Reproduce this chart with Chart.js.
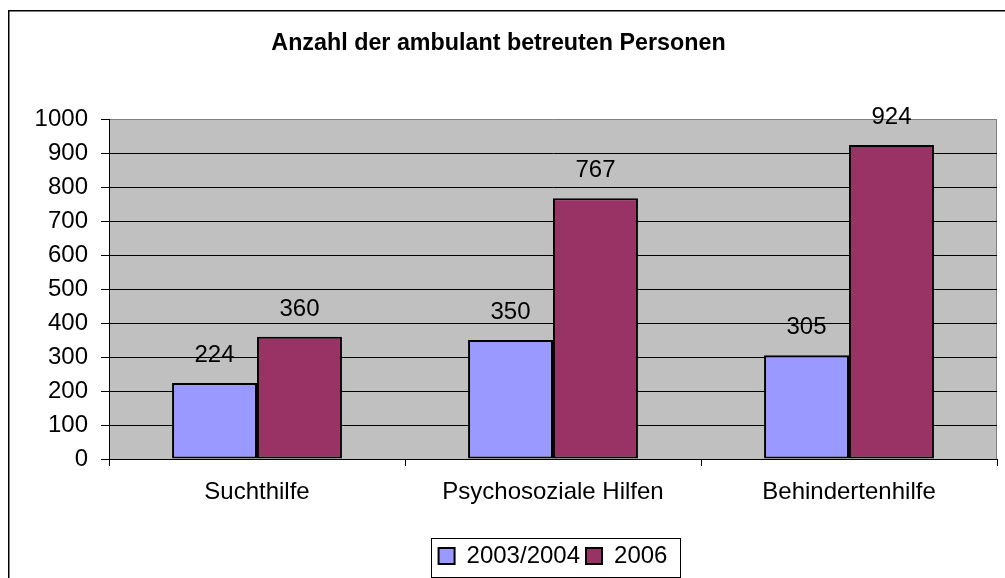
<!DOCTYPE html>
<html><head><meta charset="utf-8">
<script src="https://cdn.jsdelivr.net/npm/chart.js@4/dist/chart.umd.min.js"></script>
<style>html,body{margin:0;padding:0;background:#fff}canvas{display:block}</style>
</head><body>
<canvas id="c" width="1005" height="578"></canvas>
<script>
const categories = ['Suchthilfe', 'Psychosoziale Hilfen', 'Behindertenhilfe'];
const seriesNames = ['2003/2004', '2006'];
const values20032004 = [224, 350, 305];
const values2006 = [360, 767, 924];
const yTickValues = [0, 100, 200, 300, 400, 500, 600, 700, 800, 900, 1000];
const titleText = 'Anzahl der ambulant betreuten Personen';

const FONT = "'Liberation Sans', Arial, sans-serif";

const framePlugin = {
  id: 'frame',
  beforeDraw(chart) {
    const ctx = chart.ctx, a = chart.chartArea;
    ctx.save();
    ctx.fillStyle = '#ffffff';
    ctx.fillRect(0, 0, chart.width, chart.height);
    ctx.fillStyle = '#C0C0C0';
    ctx.fillRect(a.left, a.top, a.right - a.left, a.bottom - a.top);
    ctx.strokeStyle = '#808080';
    ctx.lineWidth = 1;
    ctx.beginPath();
    ctx.moveTo(a.right - 0.5, a.top);
    ctx.lineTo(a.right - 0.5, a.bottom);
    ctx.stroke();
    ctx.restore();
  },
  afterDatasetsDraw(chart) {
    const ctx = chart.ctx;
    ctx.save();
    ctx.fillStyle = '#000';
    ctx.font = '24px ' + FONT;
    ctx.textAlign = 'center';
    ctx.textBaseline = 'middle';
    chart.data.datasets.forEach((ds, i) => {
      chart.getDatasetMeta(i).data.forEach((bar, j) => {
        ctx.fillText(String(ds.data[j]), bar.x, bar.y - 27.5);
      });
    });
    ctx.restore();
  },
  afterDraw(chart) {
    const ctx = chart.ctx;
    ctx.save();
    ctx.strokeStyle = '#000';
    ctx.lineWidth = 1.5;
    ctx.strokeRect(8.75, 10.75, chart.width + 20, chart.height + 20);
    const lg = chart.legend;
    if (lg && lg.legendHitBoxes && lg.legendHitBoxes.length) {
      const hb = lg.legendHitBoxes;
      const l = hb[0].left - 8;
      const last = hb[hb.length - 1];
      const r = last.left + last.width + 12;
      ctx.lineWidth = 1;
      ctx.strokeRect(Math.round(l) + 0.5, Math.round(lg.top) + 0.5, Math.round(r - l), chart.height - Math.round(lg.top) - 1);
    }
    ctx.restore();
  }
};

new Chart(document.getElementById('c'), {
  type: 'bar',
  data: {
    labels: categories,
    datasets: [
      { label: seriesNames[0], data: values20032004, backgroundColor: '#9999FF', borderColor: '#000', borderWidth: 2, borderSkipped: false },
      { label: seriesNames[1], data: values2006, backgroundColor: '#993366', borderColor: '#000', borderWidth: 2, borderSkipped: false }
    ]
  },
  options: {
    responsive: false,
    devicePixelRatio: 1,
    animation: false,
    layout: { padding: { left: 0, right: 8, top: 0, bottom: 0 } },
    datasets: { bar: { categoryPercentage: 0.574, barPercentage: 1 } },
    plugins: {
      title: {
        display: true, text: titleText, color: '#000',
        font: { family: FONT, size: 23.3, weight: 'bold' },
        padding: { top: 30, bottom: 61.2 }
      },
      legend: {
        position: 'bottom', fullSize: false,
        labels: { boxWidth: 16, boxHeight: 16, color: '#000', padding: 6, font: { family: FONT, size: 24 } }
      },
      tooltip: { enabled: false }
    },
    scales: {
      x: {
        grid: { offset: true, drawOnChartArea: false, drawTicks: true, tickLength: 7, color: '#000', lineWidth: 1 },
        border: { color: '#000', width: 1 },
        ticks: { color: '#000', padding: 12, maxRotation: 0, font: { family: FONT, size: 24 } },
        afterFit(s) { s.height = 79; }
      },
      y: {
        min: 0, max: 1000,
        afterBuildTicks(s) { s.ticks = yTickValues.map(v => ({ value: v })); },
        grid: {
          color: c => (c.tick && c.tick.value === 1000) ? '#808080' : '#000',
          tickColor: '#000', tickLength: 8, lineWidth: 1
        },
        border: { color: '#000', width: 1 },
        ticks: { color: '#000', padding: 13, font: { family: FONT, size: 24 }, callback: v => String(v) },
        afterFit(s) { s.width = 109; }
      }
    }
  },
  plugins: [framePlugin]
});
</script>
</body></html>
